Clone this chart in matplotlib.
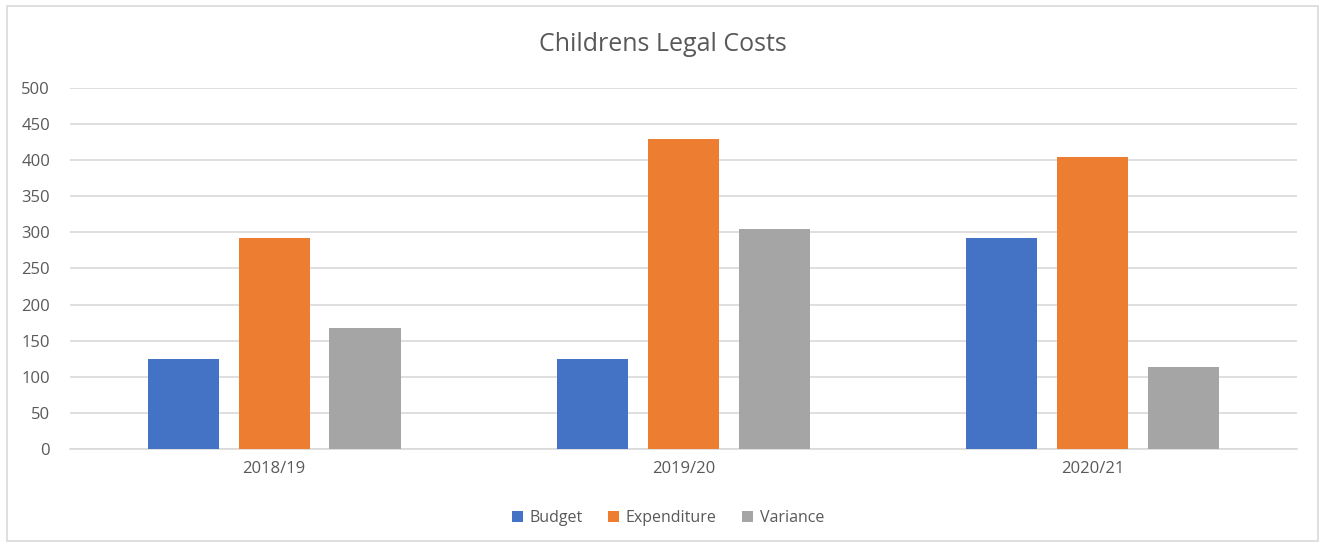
import numpy as np
from matplotlib import pyplot as plt
from matplotlib.patches import Rectangle

years = ['2018/19', '2019/20', '2020/21']
budget = [125, 125, 292]
expenditure = [292, 430, 404]
variance = [167, 305, 113]

series = ['Budget', 'Expenditure', 'Variance']
colors = ['#4472C4', '#ED7D31', '#A5A5A5']
txt = '#595959'

plt.rcParams['font.family'] = ['Open Sans', 'DejaVu Sans']

fig = plt.figure(figsize=(13.25, 5.46), dpi=100)
ax = fig.add_axes([0.0525, 0.1777, 0.9265, 0.6611])

x = np.arange(len(years))
w = 0.174
step = 0.222
for i, (name, vals) in enumerate(zip(series, [budget, expenditure, variance])):
    ax.bar(x + (i - 1) * step, vals, w, color=colors[i], label=name, zorder=3)

ax.set_xlim(-0.5, 2.5)
ax.set_ylim(0, 500)
ax.set_yticks(np.arange(0, 501, 50))
ax.set_xticks(x)
ax.set_xticklabels(years)
ax.grid(axis='y', color='#d9d9d9', linewidth=1.2, zorder=0)
for s in ['top', 'right', 'left']:
    ax.spines[s].set_visible(False)
ax.spines['bottom'].set_color('#d9d9d9')
ax.spines['bottom'].set_linewidth(1.2)
ax.tick_params(axis='both', length=0, colors=txt, labelsize=12)
ax.tick_params(axis='y', pad=14)
ax.tick_params(axis='x', pad=9)

fig.text(0.5, 0.918, 'Childrens Legal Costs', ha='center', va='center',
         fontsize=18, color=txt)

fig.legend(loc='center', bbox_to_anchor=(0.504, 0.051), ncol=3, frameon=False,
           fontsize=11.5, handlelength=0.7, handleheight=0.7,
           handletextpad=0.4, columnspacing=1.6, labelcolor=txt)

fig.patches.append(Rectangle((0.005, 0.009), 0.99, 0.98, transform=fig.transFigure,
                             fill=False, edgecolor='#d9d9d9', linewidth=1.2))

fig.savefig('out.png', dpi=100)
